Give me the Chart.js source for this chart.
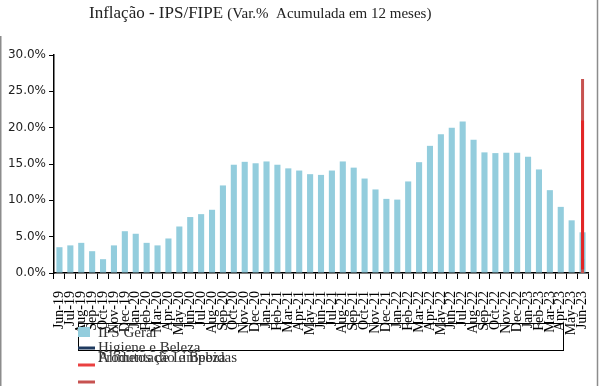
<!DOCTYPE html>
<html>
<head>
<meta charset="utf-8">
<script src="https://cdn.jsdelivr.net/npm/chart.js@4"></script>
<style>
  body { margin: 0; background: #fff; }
  #wrap { width: 600px; height: 386px; }
</style>
</head>
<body>
<div id="wrap"><canvas id="mycanvas" width="600" height="386"></canvas></div>
<script>
var months = ['Jun-19','Jul-19','Aug-19','Sep-19','Oct-19','Nov-19','Dec-19',
  'Jan-20','Feb-20','Mar-20','Apr-20','May-20','Jun-20','Jul-20','Aug-20','Sep-20','Oct-20','Nov-20','Dec-20',
  'Jan-21','Feb-21','Mar-21','Apr-21','May-21','Jun-21','Jul-21','Aug-21','Sep-21','Oct-21','Nov-21','Dec-21',
  'Jan-22','Feb-22','Mar-22','Apr-22','May-22','Jun-22','Jul-22','Aug-22','Sep-22','Oct-22','Nov-22','Dec-22',
  'Jan-23','Feb-23','Mar-23','Apr-23','May-23','Jun-23'];

// IPS Geral, % acumulado em 12 meses
var ipsGeral = [3.55, 3.8, 4.15, 3.0, 1.9, 3.8, 5.75,
  5.4, 4.15, 3.8, 4.75, 6.4, 7.7, 8.1, 8.7, 12.05, 14.9, 15.3, 15.1,
  15.35, 14.9, 14.4, 14.1, 13.6, 13.5, 14.1, 15.35, 14.5, 13.0, 11.5, 10.2,
  10.1, 12.6, 15.25, 17.5, 19.1, 20.0, 20.85, 18.35, 16.6, 16.5, 16.55, 16.55,
  16.0, 14.25, 11.4, 9.1, 7.25, 5.6];

// other series only show up stacked on the last month
var higieneBeleza = [0.4, 2.0];
var alimentacaoBebidas = [0.5, 21.0];
var produtosLimpeza = [0.0, 26.7];

var yTicks = [0, 5, 10, 15, 20, 25, 30];

var lastMonth = months[months.length - 1];
function atLast(vals) {
  return vals.map(function(v){ return {x: lastMonth, y: v}; });
}

var frameAndLegend = {
  id: 'frameAndLegend',
  afterDraw: function(chart) {
    var ctx = chart.ctx;
    ctx.save();
    // outer frame
    ctx.strokeStyle = '#8c8c8c';
    ctx.lineWidth = 1.5;
    ctx.beginPath();
    ctx.moveTo(0.75, 36); ctx.lineTo(0.75, 386);
    ctx.moveTo(597.5, 0); ctx.lineTo(597.5, 386);
    ctx.stroke();

    // title
    ctx.fillStyle = '#222';
    ctx.textBaseline = 'alphabetic';
    ctx.textAlign = 'left';
    ctx.font = '17px "Liberation Serif"';
    var t1 = 'Inflação - IPS/FIPE ';
    ctx.fillText(t1, 89, 18);
    var w1 = ctx.measureText(t1).width;
    ctx.font = '15px "Liberation Serif"';
    ctx.fillText('(Var.%  Acumulada em 12 meses)', 89 + w1, 18);

    // legend box
    ctx.strokeStyle = '#000';
    ctx.lineWidth = 1;
    ctx.strokeRect(78.5, 323.5, 485, 27);

    var ds = chart.data.datasets;
    ctx.font = '15px "Liberation Serif"';
    // IPS Geral
    ctx.fillStyle = ds[0].backgroundColor;
    ctx.fillRect(78, 327, 12, 10);
    ctx.fillStyle = '#333';
    ctx.fillText(ds[0].label, 98, 337);
    // Higiene e Beleza
    ctx.lineWidth = 3;
    ctx.strokeStyle = ds[1].borderColor;
    ctx.beginPath(); ctx.moveTo(78, 348); ctx.lineTo(95, 348); ctx.stroke();
    ctx.fillText(ds[1].label, 98, 352);
    // Alimentacao e Bebidas / Produtos de Limpeza (overlapping texts)
    ctx.strokeStyle = ds[2].borderColor;
    ctx.beginPath(); ctx.moveTo(78, 365); ctx.lineTo(95, 365); ctx.stroke();
    ctx.fillText(ds[2].label, 98, 362);
    ctx.fillText(ds[3].label, 98, 362);
    ctx.strokeStyle = ds[3].borderColor;
    ctx.beginPath(); ctx.moveTo(78, 382); ctx.lineTo(95, 382); ctx.stroke();
    ctx.restore();
  }
};

var chartdata = {
  labels: months,
  datasets: [
    {
      label: 'IPS Geral',
      data: ipsGeral,
      backgroundColor: '#93CDDD',
      barPercentage: 0.56,
      categoryPercentage: 1,
      order: 10
    },
    {
      type: 'line',
      label: 'Higiene e Beleza',
      data: atLast(higieneBeleza),
      borderColor: '#1F3A5F',
      borderWidth: 3,
      pointRadius: 0,
      order: 3
    },
    {
      type: 'line',
      label: 'Alimentação e Bebidas',
      data: atLast(alimentacaoBebidas),
      borderColor: 'rgba(230,30,30,0.85)',
      borderWidth: 3,
      pointRadius: 0,
      order: 1
    },
    {
      type: 'line',
      label: 'Produtos de Limpeza',
      data: atLast(produtosLimpeza),
      borderColor: '#C75250',
      borderWidth: 3,
      pointRadius: 0,
      order: 2
    }
  ]
};

var ctx = document.getElementById('mycanvas');
var barGraph = new Chart(ctx, {
  type: 'bar',
  data: chartdata,
  plugins: [frameAndLegend],
  options: {
    responsive: false,
    animation: false,
    layout: { padding: { top: 55, right: 12, left: 0, bottom: 0 } },
    plugins: { legend: { display: false }, tooltip: { enabled: false } },
    scales: {
      x: {
        offset: true,
        grid: { drawOnChartArea: false, color: '#000', tickLength: 6, offset: true },
        border: { color: '#000', width: 1.5 },
        ticks: {
          autoSkip: false, maxRotation: 90, minRotation: 90, padding: 12,
          color: '#000', font: { family: 'Liberation Serif', size: 14 }
        },
        afterFit: function(s){ s.height = 113; s.paddingLeft = 0; s.paddingRight = 0; }
      },
      y: {
        min: yTicks[0], max: yTicks[yTicks.length - 1],
        afterBuildTicks: function(s){ s.ticks = yTicks.map(function(v){ return {value: v}; }); },
        grid: { drawOnChartArea: false, color: '#000', tickLength: 5 },
        border: { color: '#000', width: 1.5 },
        ticks: {
          padding: 3, color: '#222',
          font: { family: 'DejaVu Sans', size: 12 },
          callback: function(v){ return v.toFixed(1) + '%'; }
        },
        afterFit: function(s){ s.width = 54; }
      }
    }
  }
});
</script>
</body>
</html>
